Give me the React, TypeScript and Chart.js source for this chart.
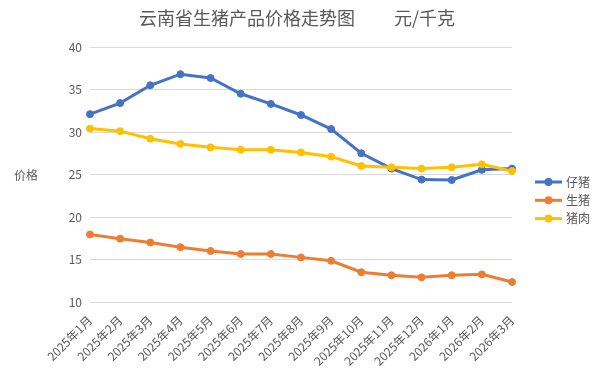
import React, { useEffect, useRef } from "react";
import { Chart, registerables } from "chart.js";

Chart.register(...registerables);

const categories = [
  "2025年1月", "2025年2月", "2025年3月", "2025年4月", "2025年5月",
  "2025年6月", "2025年7月", "2025年8月", "2025年9月", "2025年10月",
  "2025年11月", "2025年12月", "2026年1月", "2026年2月", "2026年3月",
];
const seriesNames = ["仔猪", "生猪", "猪肉"];
const piglet = [32.1, 33.4, 35.5, 36.8, 36.35, 34.5, 33.3, 32.0, 30.35, 27.5, 25.7, 24.4, 24.35, 25.55, 25.7];
const livePig = [17.95, 17.45, 17.0, 16.45, 16.0, 15.65, 15.65, 15.25, 14.85, 13.5, 13.15, 12.9, 13.15, 13.25, 12.35];
const pork = [30.4, 30.1, 29.2, 28.6, 28.2, 27.9, 27.9, 27.6, 27.1, 26.0, 25.85, 25.7, 25.85, 26.2, 25.4];
const seriesColors = ["#4472C4", "#ED7D31", "#FFC000"];
const yMin = 10;
const yMax = 40;
const yStep = 5;
const titleText = "云南省生猪产品价格走势图";
const unitText = "元/千克";
const yAxisLabel = "价格";

const FONT = "'Noto Sans CJK SC', 'Noto Sans', sans-serif";
const TEXT = "#595959";

const overlayPlugin = {
  id: "overlay",
  afterDraw(chart: any) {
    const ctx = chart.ctx as CanvasRenderingContext2D;
    ctx.save();
    ctx.fillStyle = TEXT;
    ctx.textBaseline = "middle";
    ctx.textAlign = "left";
    ctx.font = `18px ${FONT}`;
    ctx.fillText(titleText, 139, 18);
    ctx.fillText(unitText, 394, 18);

    ctx.font = `12px ${FONT}`;
    ctx.textAlign = "center";
    ctx.fillText(yAxisLabel, 26, 175);

    // legend
    const ds = chart.data.datasets;
    ds.forEach((d: any, i: number) => {
      const y = 182 + i * 18.3;
      ctx.strokeStyle = d.borderColor;
      ctx.lineWidth = 3;
      ctx.beginPath();
      ctx.moveTo(535, y);
      ctx.lineTo(562, y);
      ctx.stroke();
      ctx.fillStyle = d.borderColor;
      ctx.beginPath();
      ctx.arc(548.5, y, 4, 0, Math.PI * 2);
      ctx.fill();
      ctx.fillStyle = TEXT;
      ctx.textAlign = "left";
      ctx.fillText(d.label, 566, y);
    });
    ctx.restore();
  },
};

export default function App() {
  const ref = useRef<HTMLCanvasElement | null>(null);
  useEffect(() => {
    if (!ref.current) return;
    const values = [piglet, livePig, pork];
    const orders = [2, 1, 0];
    const chart = new Chart(ref.current, {
      type: "line",
      data: {
        labels: categories,
        datasets: seriesNames.map((name, i) => ({
          label: name,
          data: values[i],
          borderColor: seriesColors[i],
          backgroundColor: seriesColors[i],
          pointBackgroundColor: seriesColors[i],
          pointBorderColor: seriesColors[i],
          borderWidth: 3,
          pointRadius: 3.5,
          pointBorderWidth: 1,
          tension: 0,
          order: orders[i],
        })),
      },
      options: {
        responsive: false,
        animation: false,
        devicePixelRatio: 1,
        layout: { padding: { top: 47, left: 0, right: 88, bottom: 0 } },
        plugins: {
          legend: { display: false },
          title: { display: false },
          tooltip: { enabled: false },
        },
        scales: {
          x: {
            offset: false,
            grid: { display: false, drawTicks: false },
            border: { display: false },
            ticks: {
              autoSkip: false,
              minRotation: 45,
              maxRotation: 45,
              color: TEXT,
              font: { family: FONT, size: 12 },
              padding: 11,
            },
            afterFit: (s: any) => {
              s.height = 73;
            },
          },
          y: {
            min: yMin,
            max: yMax,
            grid: { color: "#D9D9D9", lineWidth: 1, drawTicks: false },
            border: { display: false },
            ticks: {
              stepSize: yStep,
              color: TEXT,
              font: { family: FONT, size: 12 },
              padding: 8,
            },
            afterFit: (s: any) => {
              s.width = 90;
            },
          },
        },
      },
      plugins: [overlayPlugin],
    });
    return () => chart.destroy();
  }, []);
  return (
    <div style={{ position: "absolute", left: 0, top: 0, width: 600, height: 375, background: "#fff" }}>
      <canvas ref={ref} width={600} height={375} style={{ width: 600, height: 375, display: "block" }} />
    </div>
  );
}
